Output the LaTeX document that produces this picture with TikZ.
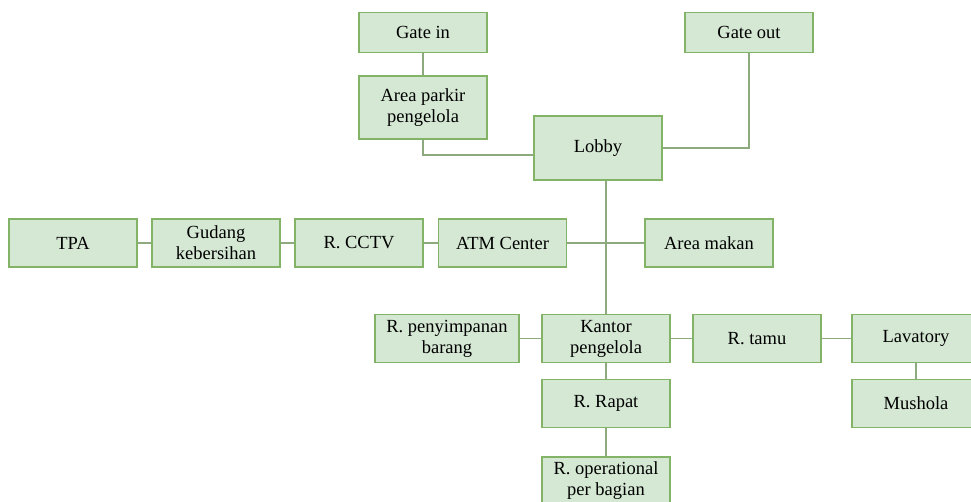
\documentclass[tikz,border=0pt]{standalone}
\usepackage{fontspec}
\setmainfont{Liberation Serif}
\usepackage{xcolor}
\usepackage{tikz}
\usetikzlibrary{calc}

\definecolor{roomfill}{HTML}{D5E8D4}
\definecolor{roomline}{HTML}{82B366}
\definecolor{linkline}{HTML}{8DAA7F}

\begin{document}
\begin{tikzpicture}[x=1pt,y=-1pt,
  room/.style={draw=roomline,fill=roomfill,line width=1.5pt,minimum width=128pt,
    minimum height=48pt,inner sep=2pt,align=center,
    font=\fontsize{18.5}{21}\selectfont},
  link/.style={draw=linkline,line width=1.5pt}]
  \useasboundingbox (0,0) rectangle (971,501);
  % top part
  \node[room,minimum height=40pt] (gatein) at (423,32.5) {Gate in};
  \node[room,minimum height=40pt] (gateout) at (749,32.5) {Gate out};
  \node[room,minimum height=63pt] (parkir) at (423,107.5) {Area parkir\\pengelola};
  \node[room,minimum height=64pt] (lobby) at (598,148) {Lobby};
  % middle row
  \node[room] (tpa) at (73,243) {TPA};
  \node[room] (gudang) at (216,243) {Gudang\\kebersihan};
  \node[room] (cctv) at (359,243) {R. CCTV};
  \node[room] (atm) at (502.5,243) {ATM Center};
  \node[room] (makan) at (709,243) {Area makan};
  % lower part
  \node[room,minimum width=144pt] (simpan) at (447,338.5) {R. penyimpanan\\barang};
  \node[room] (kantor) at (606,338.5) {Kantor\\pengelola};
  \node[room] (tamu) at (757,338.5) {R. tamu};
  \node[room] (lavatory) at (916,338.5) {Lavatory};
  \node[room] (mushola) at (916,403.5) {Mushola};
  \node[room] (rapat) at (606,403.5) {R. Rapat};
  \node[room] (operasional) at (606,481) {R. operational\\per bagian};
  % links
  \draw[link] (gatein) -- (parkir);
  \draw[link] (parkir.south) |- ($(lobby.west)+(0,7)$);
  \draw[link] (lobby.east) -| (gateout.south);
  \draw[link] (kantor.north) -- (kantor.north |- lobby.south);
  \draw[link] (tpa) -- (gudang);
  \draw[link] (gudang) -- (cctv);
  \draw[link] (cctv) -- (atm);
  \draw[link] (atm) -- (makan);
  \draw[link] (simpan) -- (kantor);
  \draw[link] (kantor) -- (tamu);
  \draw[link] (tamu) -- (lavatory);
  \draw[link] (lavatory) -- (mushola);
  \draw[link] (kantor) -- (rapat);
  \draw[link] (rapat) -- (operasional);
\end{tikzpicture}
\end{document}
